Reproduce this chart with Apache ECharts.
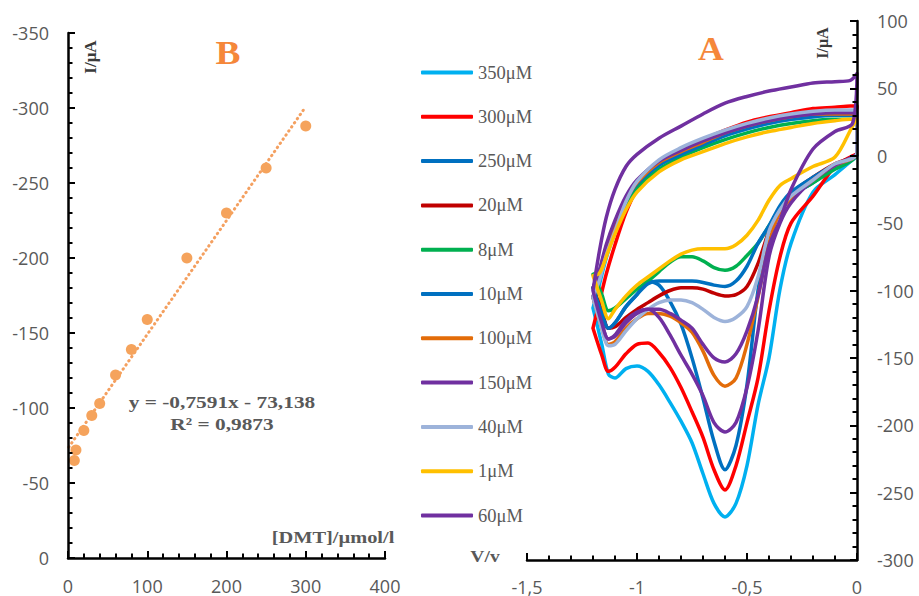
<!DOCTYPE html>
<html><head><meta charset="utf-8">
<script src="https://cdn.jsdelivr.net/npm/echarts@6.0.0/dist/echarts.min.js"></script>
<style>html,body{margin:0;padding:0;background:#fff}#c{width:919px;height:596px}</style>
</head><body><div id="c"></div>
<script>
// ---------- Panel B: calibration ----------
const concB = [8, 10, 20, 30, 40, 60, 80, 100, 150, 200, 250, 300];
const currentB = [-65, -72, -85, -95, -103, -122, -139, -159, -200, -230, -260, -288];
const trendX = [1, 300];
const trendY = [-73.9, -300.9];
const ticksBx = [0, 100, 200, 300, 400];
const ticksBy = [-350, -300, -250, -200, -150, -100, -50, 0];

// ---------- Panel A: voltammograms ----------
const ticksAx = [-1.5, -1, -0.5, 0];
const ticksAy = [-300, -250, -200, -150, -100, -50, 0, 50, 100];
const VU = [-1.2, -1.17, -1.14, -1.1, -1.05, -1.0, -0.9, -0.8, -0.7, -0.6, -0.5, -0.4, -0.3, -0.2, -0.1, -0.03, 0];
const VL = [0, -0.02, -0.1, -0.2, -0.3, -0.35, -0.4, -0.45, -0.5, -0.55, -0.6, -0.65, -0.7, -0.75, -0.8, -0.85, -0.9, -0.95, -1.0, -1.05, -1.1, -1.13, -1.16, -1.2];

const names = ['350μM', '300μM', '250μM', '20μM', '8μM', '10μM', '100μM', '150μM', '40μM', '1μM', '60μM'];
const colors = ['#00B0F0', '#FF0000', '#0070C0', '#C00000', '#00B050', '#0070C0', '#E36C09', '#7030A0', '#9DB3DA', '#FFC000', '#7030A0'];

const up350 = [-113, -95, -76, -57, -38, -24, -7, 2, 9, 15, 20, 24, 27, 29, 30, 30, 30];
const lo350 = [0, -3, -14, -27, -65, -99, -150, -185, -230, -258, -268, -258, -236, -213, -197, -183, -170, -160, -156, -158, -165, -162, -140, -113];
const up300 = [-128, -108, -88, -66, -42, -25, -4, 4, 12, 19, 25, 29, 32, 35, 36, 37, 37];
const lo300 = [2, 0, -8, -30, -50, -75, -115, -165, -198, -230, -248, -233, -209, -190, -172, -157, -146, -139, -140, -147, -157, -160, -148, -128];
const up250 = [-105, -90, -72, -52, -33, -20, -6, 2, 9, 16, 21, 25, 28, 30, 31, 31, 31];
const lo250 = [1, -2, -8, -20, -30, -40, -54, -100, -170, -215, -233, -212, -180, -150, -125, -108, -96, -93, -103, -112, -124, -128, -117, -105];
const up20 = [-98, -86, -70, -52, -34, -21, -6, 2, 9, 16, 21, 25, 28, 30, 31, 31, 31];
const lo20 = [2, -1, -6, -16, -28, -40, -56, -80, -97, -103, -104, -102, -99, -98, -98, -100, -104, -109, -114, -120, -127, -128, -115, -98];
const up8 = [-88, -85, -72, -55, -37, -24, -10, -1, 6, 12, 17, 21, 24, 26, 27, 27, 27];
const lo8 = [3, -3, -10, -20, -30, -40, -52, -65, -74, -82, -85, -83, -78, -75, -75, -79, -86, -93, -99, -106, -113, -115, -103, -88];
const up10 = [-98, -85, -68, -50, -33, -21, -7, 1, 8, 15, 20, 24, 27, 29, 30, 30, 30];
const lo10 = [2, -2, -7, -16, -27, -37, -52, -65, -82, -93, -97, -96, -94, -93, -93, -93, -93, -95, -103, -112, -124, -128, -117, -98];
const up100 = [-105, -90, -72, -52, -33, -20, -5, 3, 10, 17, 22, 26, 29, 31, 31, 31, 31];
const lo100 = [2, -2, -7, -18, -32, -42, -65, -105, -140, -165, -171, -163, -145, -131, -124, -119, -117, -117, -121, -128, -138, -140, -128, -105];
const up150 = [-105, -85, -66, -48, -30, -18, -4, 4, 11, 17, 22, 26, 29, 31, 32, 32, 32];
const lo150 = [2, -1, -7, -18, -35, -50, -75, -130, -172, -198, -205, -198, -178, -162, -148, -133, -120, -114, -116, -122, -133, -136, -125, -105];
const up40 = [-105, -92, -74, -56, -34, -19, -3, 6, 13, 19, 24, 28, 31, 33, 34, 34, 34];
const lo40 = [2, -2, -6, -18, -30, -40, -56, -90, -112, -120, -123, -120, -114, -109, -107, -107, -109, -114, -121, -130, -140, -141, -128, -105];
const up1 = [-89, -87, -75, -58, -40, -27, -12, -3, 3, 9, 14, 18, 21, 24, 26, 27, 27];
const lo1 = [27, 22, -1, -8, -17, -22, -33, -48, -59, -66, -69, -69, -69, -70, -73, -78, -84, -90, -96, -104, -114, -121, -108, -89];
const up60 = [-100, -70, -46, -25, -8, 1, 13, 22, 31, 39, 44, 48, 51, 54, 55, 56, 61];
const lo60 = [61, 24, 18, 5, -25, -48, -67, -104, -130, -147, -153, -150, -140, -128, -122, -117, -114, -114, -117, -124, -134, -136, -124, -100];

const upper = [up350, up300, up250, up20, up8, up10, up100, up150, up40, up1, up60];
const lower = [lo350, lo300, lo250, lo20, lo8, lo10, lo100, lo150, lo40, lo1, lo60];

// ---------- build ----------
const GREY = '#595959';
const tickFont = {color: GREY, fontFamily: 'Open Sans', fontSize: 18};
const comma = v => String(v).replace('.', ',');

function mainAxis(extra) {
  return Object.assign({
    type: 'value', z: 100,
    axisLine: {show: true, onZero: false, lineStyle: {color: '#000', width: 2.5}},
    axisTick: {show: true, inside: true, length: 7, lineStyle: {color: '#000', width: 2}},
    minorTick: {show: true, splitNumber: 5, length: 4.5, lineStyle: {color: '#000', width: 2}},
    splitLine: {show: false}, minorSplitLine: {show: false}
  }, extra);
}

const cvSeries = names.map((n, k) => ({
  name: n, type: 'line', xAxisIndex: 1, yAxisIndex: 1,
  data: VU.map((v, i) => [v, upper[k][i]]).concat(VL.map((v, i) => [v, lower[k][i]])),
  smooth: 0.3, showSymbol: false, symbol: 'none',
  lineStyle: {color: colors[k], width: 3.5, cap: 'round', join: 'round'},
  itemStyle: {color: colors[k]}
}));

const txt = (x, y, text, font, fill, extra) => Object.assign({type: 'text', x: x, y: y, z: 120,
  style: {text: text, font: font, fill: fill, textAlign: 'center', textVerticalAlign: 'middle', align: 'center', verticalAlign: 'middle'}}, extra || {});

const option = {
  animation: false,
  backgroundColor: '#fff',
  grid: [
    {left: 68, width: 317, top: 33, height: 525},
    {left: 527, width: 330, top: 21, height: 542}
  ],
  xAxis: [
    mainAxis({gridIndex: 0, position: 'bottom', min: ticksBx[0], max: ticksBx[ticksBx.length - 1], interval: 100,
      axisLabel: Object.assign({margin: 19}, tickFont)}),
    mainAxis({gridIndex: 1, position: 'bottom', min: ticksAx[0], max: ticksAx[ticksAx.length - 1], interval: 0.5,
      axisLabel: Object.assign({margin: 18, formatter: comma}, tickFont)})
  ],
  yAxis: [
    mainAxis({gridIndex: 0, position: 'left', inverse: true, min: ticksBy[0], max: ticksBy[ticksBy.length - 1], interval: 50,
      axisLabel: Object.assign({margin: 19}, tickFont)}),
    mainAxis({gridIndex: 1, position: 'right', min: ticksAy[0], max: ticksAy[ticksAy.length - 1], interval: 50,
      axisLabel: Object.assign({margin: 20, formatter: comma}, tickFont)})
  ],
  legend: {
    data: names, orient: 'vertical', left: 416, top: 57.5,
    itemWidth: 52, itemHeight: 4, itemGap: 24.3, icon: 'roundRect',
    selectedMode: false,
    textStyle: {fontFamily: 'Liberation Serif', fontSize: 18.5, color: GREY, lineHeight: 20}
  },
  series: [
    {type: 'line', xAxisIndex: 0, yAxisIndex: 0, data: trendX.map((x, i) => [x, trendY[i]]),
      symbol: 'none', lineStyle: {color: '#F4A060', width: 3, type: [0.5, 4.5], cap: 'round'}, z: 2},
    {type: 'scatter', xAxisIndex: 0, yAxisIndex: 0, data: concB.map((x, i) => [x, currentB[i]]),
      symbolSize: 11, itemStyle: {color: '#F5A35C', opacity: 1}, z: 3}
  ].concat(cvSeries),
  graphic: [
    txt(228, 53, 'B', 'bold 34px "Liberation Serif"', '#F5873A', {scaleX: 1.1}),
    txt(711, 49, 'A', 'bold 34px "Liberation Serif"', '#F5873A', {scaleX: 1.05}),
    txt(90, 57, 'I/μA', 'bold 17px "Liberation Serif"', '#3a3a3a', {rotation: Math.PI / 2}),
    txt(822, 43, 'I/μA', 'bold 16px "Liberation Serif"', '#3a3a3a', {rotation: Math.PI / 2}),
    txt(485, 556, 'V/v', 'bold 17px "Liberation Serif"', GREY, {scaleX: 1.15}),
    txt(333, 537, '[DMT]/µmol/l', 'bold 17px "Liberation Serif"', GREY, {scaleX: 1.2}),
    txt(222, 402, 'y = -0,7591x - 73,138', 'bold 17.5px "Liberation Serif"', GREY, {scaleX: 1.22}),
    txt(222, 424, 'R² = 0,9873', 'bold 17.5px "Liberation Serif"', GREY, {scaleX: 1.22})
  ]
};

const chart = echarts.init(document.getElementById('c'), null, {renderer: 'svg'});
chart.setOption(option);
</script>
</body></html>
